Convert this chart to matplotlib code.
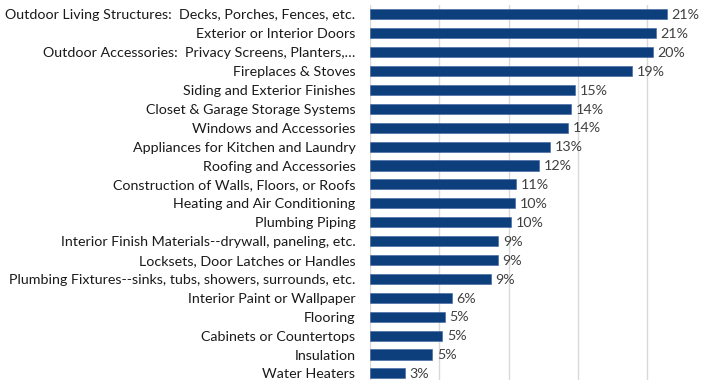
import matplotlib
matplotlib.use("Agg")
import matplotlib.pyplot as plt

categories = [
    "Outdoor Living Structures:  Decks, Porches, Fences, etc.",
    "Exterior or Interior Doors",
    "Outdoor Accessories:  Privacy Screens, Planters,…",
    "Fireplaces & Stoves",
    "Siding and Exterior Finishes",
    "Closet & Garage Storage Systems",
    "Windows and Accessories",
    "Appliances for Kitchen and Laundry",
    "Roofing and Accessories",
    "Construction of Walls, Floors, or Roofs",
    "Heating and Air Conditioning",
    "Plumbing Piping",
    "Interior Finish Materials--drywall, paneling, etc.",
    "Locksets, Door Latches or Handles",
    "Plumbing Fixtures--sinks, tubs, showers, surrounds, etc.",
    "Interior Paint or Wallpaper",
    "Flooring",
    "Cabinets or Countertops",
    "Insulation",
    "Water Heaters",
]
values = [21.4, 20.6, 20.4, 18.9, 14.8, 14.5, 14.3, 13.0, 12.2, 10.55, 10.45, 10.2,
          9.25, 9.2, 8.7, 5.9, 5.4, 5.2, 4.5, 2.5]
value_labels = ["21%", "21%", "20%", "19%", "15%", "14%", "14%", "13%", "12%", "11%",
                "10%", "10%", "9%", "9%", "9%", "6%", "5%", "5%", "5%", "3%"]

plt.rcParams['font.family'] = ['Lato', 'DejaVu Sans']

fig = plt.figure(figsize=(7.04, 3.80), dpi=100)
ax = fig.add_axes([370/704, -0.0075, 1 - 370/704, 0.9947])

y = list(range(len(categories)))
ax.barh(y, values, height=0.53, color='#0d3f7d', edgecolor='#3a62a0', linewidth=0.4, zorder=3)
for yi, v, lab in zip(y, values, value_labels):
    ax.text(v + 0.35, yi + 0.04, lab, va='center', ha='left', fontsize=10.3, color='#404040')

ax.set_ylim(len(categories) - 0.5, -0.5)
ax.set_xlim(0, (704 - 370) / 13.865)
ax.set_xticks([0, 5, 10, 15, 20])
ax.xaxis.grid(True, color='#d9d9d9', linewidth=1, zorder=0)
ax.tick_params(axis='x', bottom=False, labelbottom=False)
ax.tick_params(axis='y', left=False, pad=7)
ax.set_yticks(y)
ax.set_yticklabels(categories, fontsize=10.3, color='#1a1a1a')
for s in ax.spines.values():
    s.set_visible(False)

fig.savefig("out.png", dpi=100)
